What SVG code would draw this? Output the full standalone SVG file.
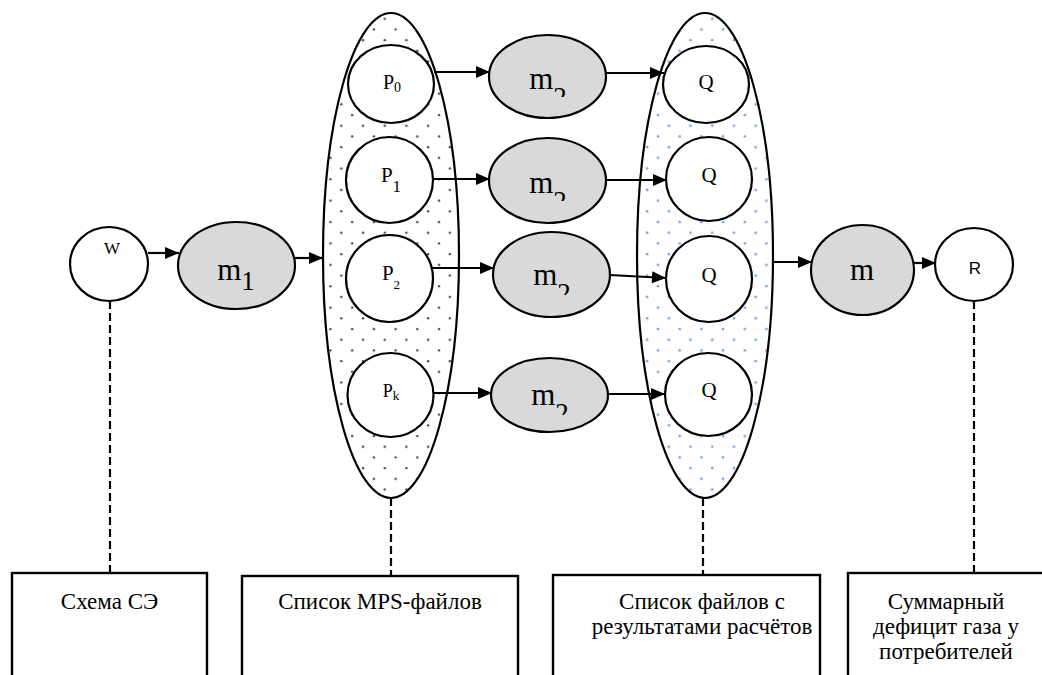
<svg xmlns="http://www.w3.org/2000/svg" width="1042" height="675" viewBox="0 0 1042 675">
<style>
.sh{stroke:#000;stroke-width:2.2}
.w{fill:#fff}
.g{fill:#d9d9d9}
.c{stroke:#000;stroke-width:2.2;fill:none}
.d{stroke:#000;stroke-width:2.2;fill:none;stroke-dasharray:8 4}
.box{fill:#fff;stroke:#000;stroke-width:2.4}
text{font-family:"Liberation Serif",serif}
</style>
<defs>
<marker id="ah" markerUnits="userSpaceOnUse" markerWidth="16" markerHeight="14" refX="15" refY="7" orient="auto" viewBox="0 0 16 14">
<path d="M1,1 L15,7 L1,13 z" fill="#000"/>
</marker>
<pattern id="dotP" patternUnits="userSpaceOnUse" width="21.7" height="21.4" x="0" y="3">
<circle cx="5" cy="5" r="1.2" fill="#444"/>
<circle cx="15.85" cy="15.7" r="1.2" fill="#444"/>
</pattern>
<pattern id="dotQ" patternUnits="userSpaceOnUse" width="21.7" height="21.4" x="2" y="3">
<circle cx="5" cy="5" r="1.3" fill="#7ba6dc"/>
<circle cx="15.85" cy="15.7" r="1.3" fill="#7ba6dc"/>
</pattern>
<clipPath id="c1"><rect x="500" y="40" width="100" height="57"/></clipPath>
<clipPath id="c2"><rect x="500" y="140" width="100" height="61"/></clipPath>
<clipPath id="c3"><rect x="500" y="240" width="100" height="55"/></clipPath>
<clipPath id="c4"><rect x="500" y="360" width="100" height="55"/></clipPath>
</defs>
<rect width="1042" height="675" fill="#fff"/>

<g id="groupP">
<ellipse cx="391" cy="255.5" rx="68" ry="242.5" fill="#fff"/>
<ellipse cx="391" cy="255.5" rx="68" ry="242.5" fill="url(#dotP)" class="sh"/>
</g>
<g id="groupQ">
<ellipse cx="705" cy="255.5" rx="68" ry="242.5" fill="#fff"/>
<ellipse cx="705" cy="255.5" rx="68" ry="242.5" fill="url(#dotQ)" class="sh"/>
</g>

<g id="connectors">
<line class="c" x1="148" y1="253" x2="179" y2="253" marker-end="url(#ah)"/>
<line class="c" x1="295" y1="258" x2="323" y2="258" marker-end="url(#ah)"/>
<line class="c" x1="434" y1="72" x2="490" y2="72" marker-end="url(#ah)"/>
<line class="c" x1="433" y1="179" x2="490" y2="179" marker-end="url(#ah)"/>
<line class="c" x1="426" y1="268" x2="494" y2="268" marker-end="url(#ah)"/>
<line class="c" x1="434" y1="393" x2="492" y2="393" marker-end="url(#ah)"/>
<line class="c" x1="606" y1="73" x2="664" y2="73" marker-end="url(#ah)"/>
<line class="c" x1="606" y1="180" x2="667" y2="180" marker-end="url(#ah)"/>
<line class="c" x1="610" y1="275" x2="666" y2="278" marker-end="url(#ah)"/>
<line class="c" x1="608" y1="394" x2="665" y2="394" marker-end="url(#ah)"/>
<line class="c" x1="773" y1="262" x2="812" y2="262" marker-end="url(#ah)"/>
<line class="c" x1="914" y1="263" x2="936" y2="263" marker-end="url(#ah)"/>
<line class="d" x1="110" y1="301" x2="110" y2="573"/>
<line class="d" x1="391" y1="498" x2="391" y2="576"/>
<line class="d" x1="703" y1="498" x2="703" y2="575"/>
<line class="d" x1="974" y1="301" x2="974" y2="573"/>
</g>

<g text-anchor="middle" fill="#000">
<g id="W">
<ellipse cx="109" cy="264" rx="39" ry="37" class="sh w"/>
<text x="112" y="254" font-size="17">W</text>
</g>
<g id="m1">
<ellipse cx="236.5" cy="265.5" rx="58.5" ry="43.5" class="sh g"/>
<text x="236" y="280" font-size="31">m<tspan dy="10" font-size="27">1</tspan></text>
</g>

<g id="P0">
<ellipse cx="391" cy="84" rx="43" ry="39" class="sh w"/>
<text x="392" y="89" font-size="20">P<tspan dy="3" font-size="14">0</tspan></text>
</g>
<g id="P1">
<ellipse cx="389.5" cy="180" rx="43.5" ry="43" class="sh w"/>
<text x="391" y="182" font-size="21">P<tspan dy="10" font-size="17">1</tspan></text>
</g>
<g id="P2">
<ellipse cx="389.5" cy="278.5" rx="43.5" ry="43.5" class="sh w"/>
<text x="391" y="280" font-size="21">P<tspan dy="9" font-size="13">2</tspan></text>
</g>
<g id="Pk">
<ellipse cx="390.5" cy="395" rx="43" ry="42" class="sh w"/>
<text x="391" y="397" font-size="18">P<tspan dy="3" font-size="13">k</tspan></text>
</g>

<g id="m2a">
<ellipse cx="547.5" cy="76.5" rx="58.5" ry="41.5" class="sh g"/>
<text x="548" y="89" font-size="31" clip-path="url(#c1)">m<tspan dy="17" font-size="27">2</tspan></text>
</g>
<g id="m2b">
<ellipse cx="547.5" cy="180.5" rx="58.5" ry="42.5" class="sh g"/>
<text x="548" y="193" font-size="31" clip-path="url(#c2)">m<tspan dy="17" font-size="27">2</tspan></text>
</g>
<g id="m2c">
<ellipse cx="551.5" cy="274.5" rx="58.5" ry="42.5" class="sh g"/>
<text x="552" y="285" font-size="31" clip-path="url(#c3)">m<tspan dy="17" font-size="27">2</tspan></text>
</g>
<g id="m2d">
<ellipse cx="549.5" cy="395" rx="58.5" ry="37" class="sh g"/>
<text x="550" y="405" font-size="31" clip-path="url(#c4)">m<tspan dy="17" font-size="27">2</tspan></text>
</g>

<g id="Q1">
<ellipse cx="706" cy="84.5" rx="43" ry="38.5" class="sh w"/>
<text x="706" y="89" font-size="21">Q</text>
</g>
<g id="Q2">
<ellipse cx="709" cy="179" rx="43" ry="42" class="sh w"/>
<text x="709" y="182" font-size="21">Q</text>
</g>
<g id="Q3">
<ellipse cx="709" cy="279" rx="43" ry="43" class="sh w"/>
<text x="709" y="282" font-size="21">Q</text>
</g>
<g id="Q4">
<ellipse cx="708.5" cy="394.5" rx="43.5" ry="41.5" class="sh w"/>
<text x="709" y="397" font-size="21">Q</text>
</g>

<g id="m">
<ellipse cx="862.5" cy="270" rx="51.5" ry="45" class="sh g"/>
<text x="862" y="280" font-size="31">m</text>
</g>
<g id="R">
<ellipse cx="974" cy="264.5" rx="39" ry="36.5" class="sh w"/>
<text x="975" y="274" font-size="17" style="font-family:'Liberation Sans',sans-serif">R</text>
</g>

<g id="box1">
<rect x="12" y="573" width="195" height="140" class="box"/>
<text x="109.5" y="609" font-size="23">Схема СЭ</text>
</g>
<g id="box2">
<rect x="242" y="576" width="276" height="140" class="box"/>
<text x="380" y="609" font-size="23">Список MPS-файлов</text>
</g>
<g id="box3">
<rect x="553" y="575" width="267" height="140" class="box"/>
<text x="702" y="609" font-size="23">Список файлов с</text>
<text x="702" y="634" font-size="23">результатами расчётов</text>
</g>
<g id="box4">
<rect x="848" y="573" width="210" height="140" class="box"/>
<text x="946" y="609" font-size="23">Суммарный</text>
<text x="946" y="634" font-size="23">дефицит газа у</text>
<text x="946" y="659" font-size="23">потребителей</text>
</g>
</g>
</svg>
